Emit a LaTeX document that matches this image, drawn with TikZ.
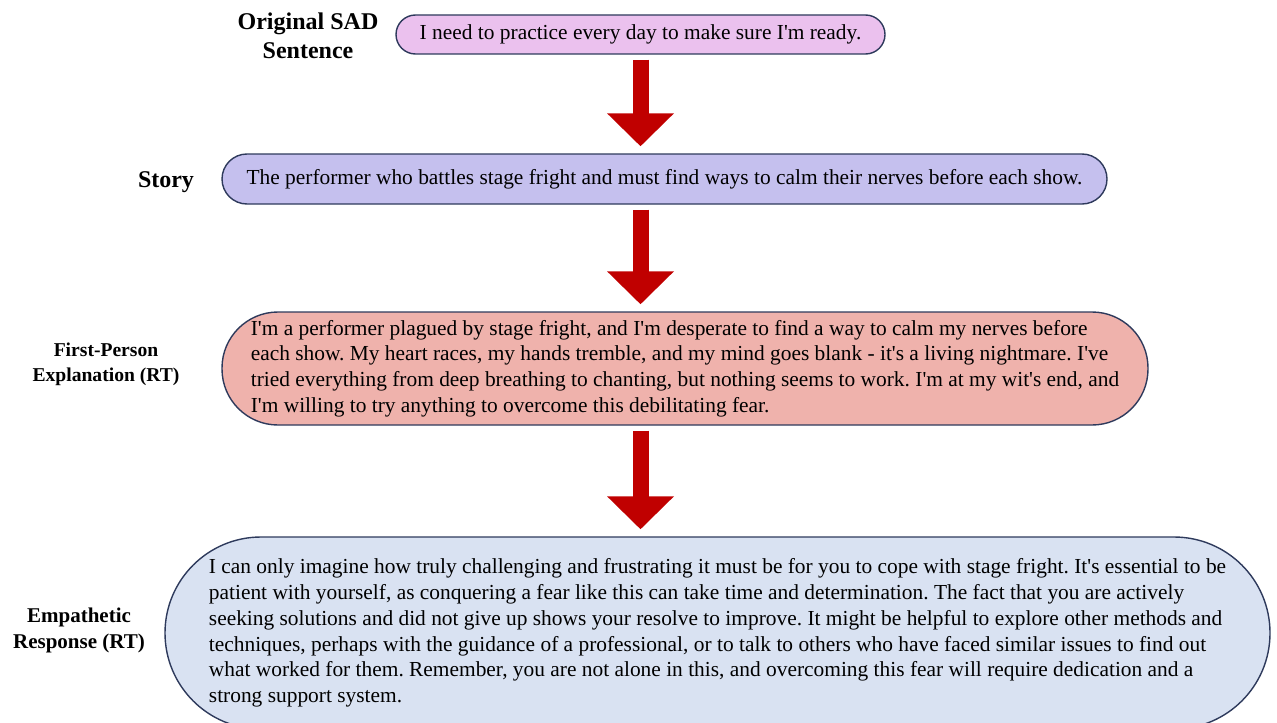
\documentclass[tikz,border=0pt]{standalone}
\usepackage{fontspec}
\setmainfont[Ligatures=TeXOff]{Liberation Serif}
\usetikzlibrary{arrows.meta,positioning}
\frenchspacing
\definecolor{sadpink}{HTML}{EBC1EE}
\definecolor{storyblue}{HTML}{C5C0EE}
\definecolor{fpesalmon}{HTML}{EFB2AC}
\definecolor{empblue}{HTML}{D9E2F2}
\definecolor{boxedge}{HTML}{2E3A5C}
\definecolor{flowred}{HTML}{C00000}
\tikzset{%
	sentence/.style   = {draw=boxedge, line width=0.7pt, rounded corners=#1, align=left, inner sep=0pt, font=\fontsize{10.7}{12.85}\selectfont},
	sidelabel/.style 2 args = {align=center, font=\bfseries\fontsize{#1}{#2}\selectfont},
	flow/.style       = {draw=flowred, line width=8pt, -{Triangle[width=32.5pt,length=16.5pt]}, shorten <=2.5pt, shorten >=3.5pt},
}
\begin{document}
\begin{tikzpicture}[x=0.5pt,y=-0.5pt]
	\clip (0,0) rectangle (1277,722);
	\node [sentence=9.75pt, fill=sadpink, minimum width=244.5pt, minimum height=19.5pt] (sad) at (640.5,34.5) {I need to practice every day to make sure I'm ready.};
	\node [sentence=12.5pt, fill=storyblue, minimum width=442.5pt, minimum height=25pt] (story) at (664.5,179) {The performer who battles stage fright and must find ways to calm their nerves before each show.};
	\node [sentence=28pt, fill=fpesalmon, minimum width=463pt, minimum height=56.5pt] (fpe) at (685,368.5) {I'm a performer plagued by stage fright, and I'm desperate to find a way to calm my nerves before\\each show. My heart races, my hands tremble, and my mind goes blank - it's a living nightmare. I've\\tried everything from deep breathing to chanting, but nothing seems to work. I'm at my wit's end, and\\I'm willing to try anything to overcome this debilitating fear.};
	\node [sentence=48pt, fill=empblue, minimum width=552.5pt, minimum height=96pt] (emp) at (717.5,633) {I can only imagine how truly challenging and frustrating it must be for you to cope with stage fright. It's essential to be\\patient with yourself, as conquering a fear like this can take time and determination. The fact that you are actively\\seeking solutions and did not give up shows your resolve to improve. It might be helpful to explore other methods and\\techniques, perhaps with the guidance of a professional, or to talk to others who have faced similar issues to find out\\what worked for them. Remember, you are not alone in this, and overcoming this fear will require dedication and a\\strong support system.};

	\node [sidelabel={12}{14.5}] (sadlbl) at (308,36) {Original SAD\\Sentence};
	\node [sidelabel={12}{14.5}] (storylbl) at (166,182) {Story};
	\node [sidelabel={9.8}{12.5}] (fpelbl) at (106,364) {First-Person\\Explanation (RT)};
	\node [sidelabel={10.5}{13}] (emplbl) at (79,630.5) {Empathetic\\Response (RT)};

	\draw[flow] (sad.south) -- (sad.south |- story.north);
	\draw[flow] (sad.south |- story.south) -- (sad.south |- fpe.north);
	\draw[flow] (sad.south |- fpe.south) -- (sad.south |- emp.north);
\end{tikzpicture}
\end{document}
